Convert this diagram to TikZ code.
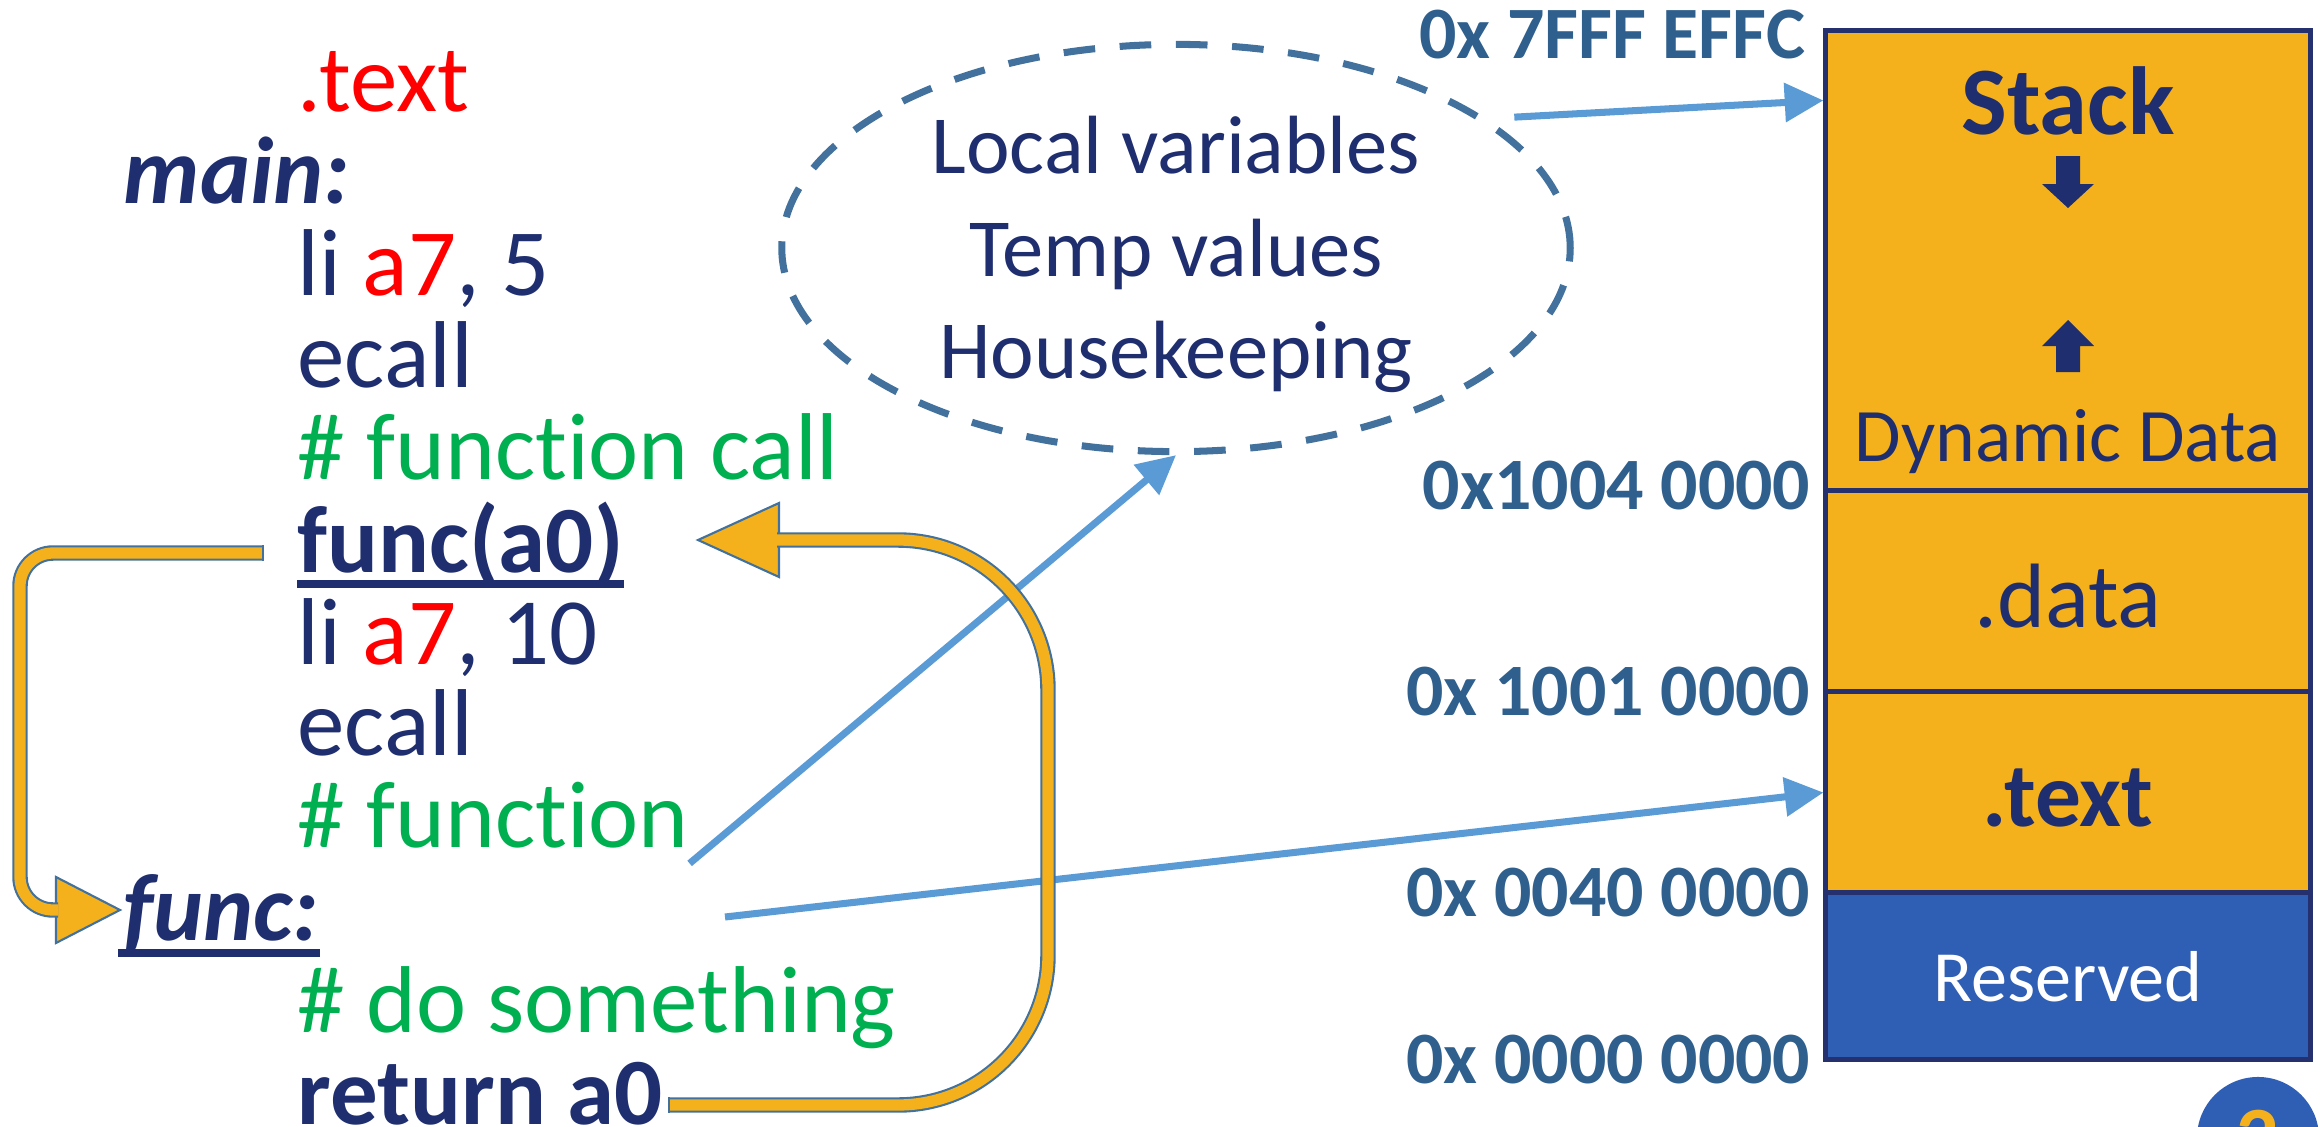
\documentclass[tikz,border=0pt]{standalone}
\usepackage{fontspec}
\setmainfont{Carlito}[Ligatures=NoCommon]
\usetikzlibrary{calc}
\usetikzlibrary{shapes.geometric}
\usetikzlibrary{arrows.meta}

\definecolor{navy}{HTML}{1F2E6E}
\definecolor{boxline}{HTML}{25306E}
\definecolor{addr}{HTML}{2F5F8C}
\definecolor{steel}{HTML}{41719C}
\definecolor{gold}{HTML}{F5B11C}
\definecolor{royal}{HTML}{2F5EB5}
\definecolor{sky}{HTML}{5B9BD5}
\definecolor{cgreen}{HTML}{00B050}

\newcommand{\codesize}{\fontsize{27}{30}\selectfont}

\begin{document}
\begin{tikzpicture}[x=0.01cm, y=-0.01cm,
    codeline/.style={anchor=base west, inner sep=0pt, text=navy, font=\codesize},
    codebold/.style={codeline, font=\codesize\bfseries},
    codelabel/.style={codeline, font=\codesize\bfseries\itshape},
    addrlbl/.style={anchor=east, inner sep=0pt, text=addr, font=\fontsize{21}{24}\selectfont\bfseries},
    seg/.style={draw=boxline, line width=1.4pt, fill=gold, minimum width=4.84cm, inner sep=0pt},
    seglbl/.style={anchor=base, inner sep=0pt, text=navy},
    link/.style={sky, line width=2pt, -{Triangle[length=11pt,width=10.8pt]}},
    pipe/.style={draw=steel, line width=0.6pt, double=gold, double distance=3.2pt},
    pipehead/.style={fill=gold, draw=steel, line width=0.6pt, line join=miter},
    uline/.style={navy, line width=2.4pt}]
        \useasboundingbox (0,0) rectangle (2320,1127);
        \clip (0,0) rectangle (2320,1127);

        % Code
        \node[codeline, text=red] (sect) at (297,111) {.text};
        \node[codelabel] (mainlbl) at (123,203) {main:};
        \node[codeline] (li5) at (297,295) {li \textcolor{red}{a7}, 5};
        \node[codeline] (ecall1) at (297,387) {ecall};
        \node[codeline, text=cgreen] (cmt1) at (297,479) {\# function call};
        \node[codebold] (call) at (297,572) {func(a0)};
        \node[codeline] (li10) at (297,664) {li \textcolor{red}{a7}, 10};
        \node[codeline] (ecall2) at (297,755) {ecall};
        \node[codeline, text=cgreen] (cmt2) at (297,847) {\# function};
        \node[codelabel] (funclbl) at (123,940) {func:};
        \node[codeline, text=cgreen] (cmt3) at (297,1032) {\# do something};
        \node[codebold] (ret) at (297,1124) {return a0};

        \draw[uline] ([yshift=-0.12cm]call.base west) -- ([yshift=-0.12cm]call.base east);
        \draw[uline] ([yshift=-0.13cm,xshift=-0.05cm]funclbl.base west) -- ([yshift=-0.13cm]funclbl.base east);

        % Stack frame contents
        \node[ellipse, draw=steel, line width=2pt, dash pattern=on 9pt off 7pt,
              minimum width=7.88cm, minimum height=4.07cm, inner sep=0pt] (frame) at (1176,248) {};
        \node[seglbl, font=\fontsize{23.5}{28}\selectfont] (locvar) at (1176,173) {Local variables};
        \node[seglbl, font=\fontsize{23.5}{28}\selectfont] (tmpval) at (1176,276) {Temp values};
        \node[seglbl, font=\fontsize{23.5}{28}\selectfont] (housek) at (1176,378) {Housekeeping};

        % Memory map
        \node[seg, minimum height=4.6cm] (dyn) at (2068,261) {};
        \node[seg, minimum height=2.01cm] (dataseg) at (2068,591.5) {};
        \node[seg, minimum height=2.01cm] (textseg) at (2068,792.5) {};
        \node[seg, fill=royal, minimum height=1.66cm] (resseg) at (2068,976) {};

        \node[seglbl, font=\fontsize{27.5}{30}\selectfont\bfseries] (stacklbl) at (2068,134) {Stack};
        \node[seglbl, font=\fontsize{21.5}{24}\selectfont] (dynlbl) at (2068,461) {Dynamic Data};
        \node[seglbl, font=\fontsize{26}{30}\selectfont] (datalbl) at (2068,627) {.data};
        \node[seglbl, font=\fontsize{26}{30}\selectfont\bfseries] (textlbl) at (2068,826) {.text};
        \node[seglbl, text=white, font=\fontsize{20.5}{24}\selectfont] (reslbl) at (2068,1001) {Reserved};

        \fill[navy] (2056,156) -- (2080,156) -- (2080,184) -- (2094,184) -- (2068,208)
                    -- (2042,184) -- (2056,184) -- cycle;
        \fill[navy] (2056,372) -- (2080,372) -- (2080,346) -- (2094,346) -- (2068,320)
                    -- (2042,346) -- (2056,346) -- cycle;

        \node[addrlbl] (atop) at (1806,35) {0x 7FFF EFFC};
        \node[addrlbl] (adyn) at (1811,486) {0x1004 0000};
        \node[addrlbl] (adata) at (1811,692) {0x 1001 0000};
        \node[addrlbl] (atext) at (1811,893) {0x 0040 0000};
        \node[addrlbl] (azero) at (1811,1060) {0x 0000 0000};

        % Pointers
        \coordinate (textsrc) at (725,917);
        \draw[link] ([xshift=0.3cm]frame.23) -- (dyn.west |- stacklbl);
        \draw[link] ([yshift=-0.15cm]cmt2.south east) -- (frame.south);
        \draw[link] (textsrc) -- (textseg.west);

        % Call and return
        \coordinate (callout) at (263,553);
        \coordinate (calltip) at (120,910);
        \draw[pipehead] (calltip) -- ++(-64,-33) -- ++(0,66) -- cycle;
        \draw[pipe, rounded corners=0.33cm] (callout) -| ($(calltip)+(-100,0)$) -- ($(calltip)+(-62,0)$);
        \draw[steel, line width=0.6pt] ($(callout)+(0,-7.7)$) -- ++(0,15.4);

        \coordinate (retout) at ($(ret.base east)+(6,-19)$);
        \coordinate (rettip) at (698,540);
        \draw[pipehead] (rettip) -- ++(81,-37) -- ++(0,74) -- cycle;
        \draw[pipe, rounded corners=1.5cm] (retout) -| (1048,540) -- ($(rettip)+(79,0)$);
        \draw[steel, line width=0.6pt] ($(retout)+(0,-7.7)$) -- ++(0,15.4);

        % Slide number
        \node[circle, fill=royal, minimum size=1.22cm, inner sep=0pt, text=gold,
              font=\fontsize{24}{28}\selectfont\bfseries] (pagenum) at (2258,1138) {2};
      \end{tikzpicture}
\end{document}
